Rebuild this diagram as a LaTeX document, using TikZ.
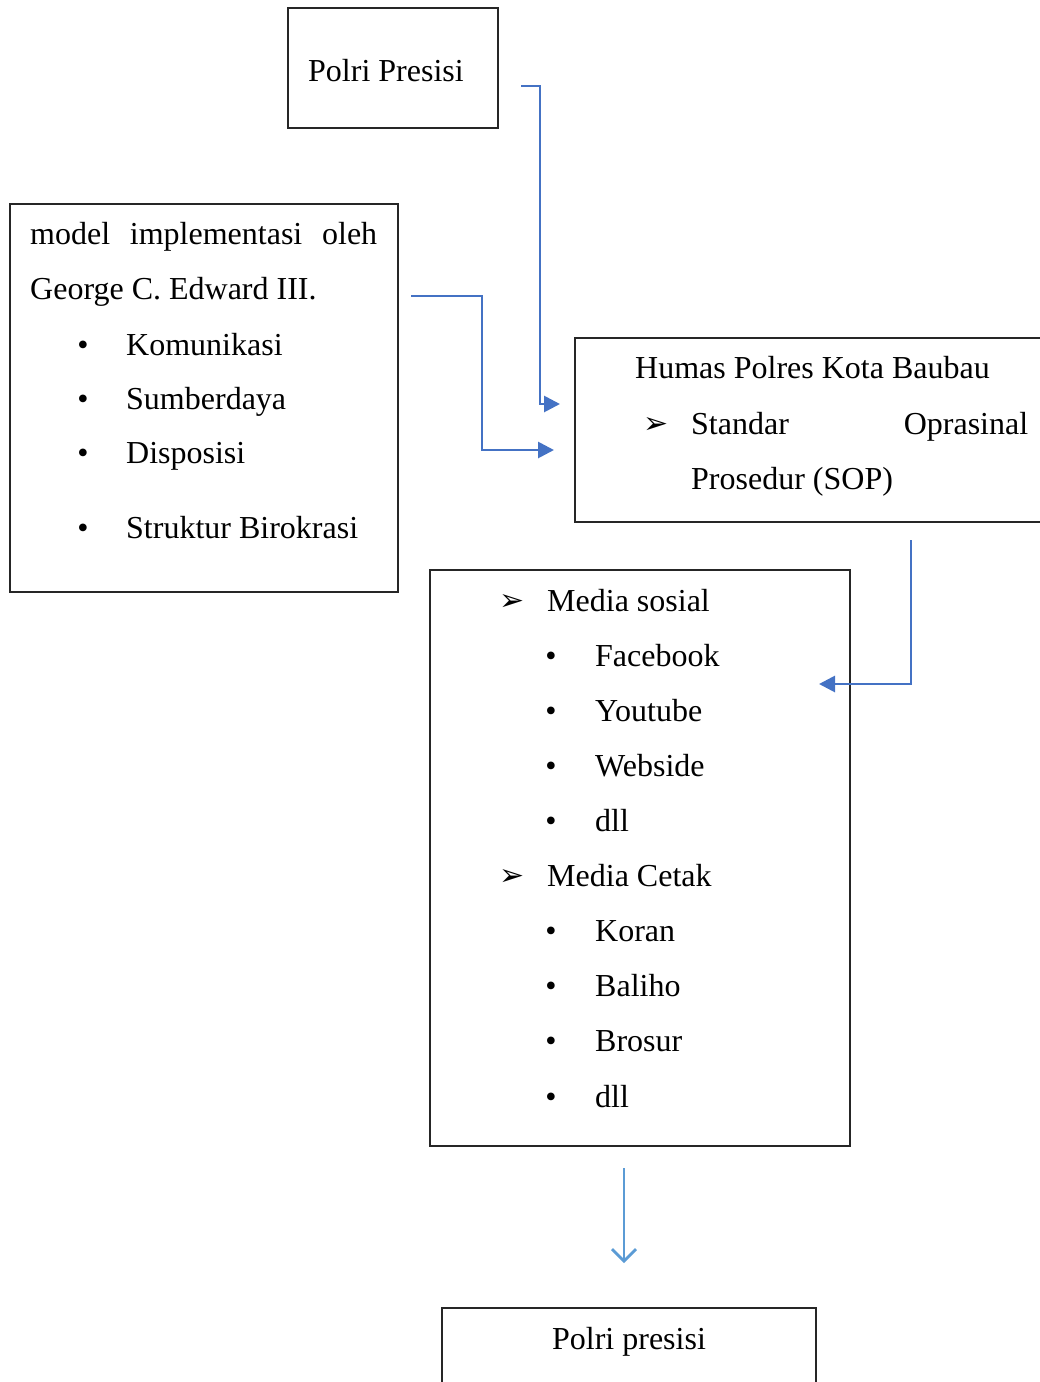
\documentclass[tikz,border=0pt]{standalone}
\usepackage{fontspec}
\setmainfont{Liberation Serif}
\newfontfamily\dejavu{DejaVu Sans}
\usepackage{xcolor}
\usetikzlibrary{arrows.meta}
\definecolor{linkblue}{HTML}{4472C4}
\definecolor{downblue}{HTML}{5B9BD5}

\begin{document}
\begin{tikzpicture}[x=1pt,y=-1pt,
    box/.style={draw=black!85, line width=1.2pt, inner sep=0pt},
    txt/.style={anchor=base west, inner sep=0pt, font=\fontsize{32}{38}\selectfont},
    dot/.style={anchor=base, inner sep=0pt, font=\fontsize{32}{38}\selectfont},
    arrbullet/.style={anchor=base west, inner sep=0pt, font=\dejavu\fontsize{30}{34}\selectfont},
    link/.style={draw=linkblue, line width=2.8pt, -{Triangle[length=16pt,width=16pt]}},
    down/.style={draw=downblue, line width=2.8pt, -{Straight Barb[length=12pt,width=24pt]}}]
        \clip (0,0) rectangle (1040,1382);

        % Define boxes
        \node[box, minimum width=210, minimum height=120] (polri) at (393,68) {};
        \node[box, minimum width=388, minimum height=388] (model) at (204,398) {};
        \node[box, minimum width=475, minimum height=184] (humas) at (812.5,430) {};
        \node[box, minimum width=420, minimum height=576] (media) at (640,858) {};
        \node[box, minimum width=374, minimum height=92] (hasil) at (629,1354) {};

        % Polri Presisi
        \node[txt] (polriT) at (308,81) {Polri Presisi};

        % model implementasi
        \node[txt] (modelA) at (30,244) {\makebox[347pt][s]{model implementasi oleh}};
        \node[txt] (modelB) at (30,299) {George C. Edward III.};
        \node[dot] (m1d) at (83,355) {•};
        \node[txt] (m1) at (126,355) {Komunikasi};
        \node[dot] (m2d) at (83,409) {•};
        \node[txt] (m2) at (126,409) {Sumberdaya};
        \node[dot] (m3d) at (83,463) {•};
        \node[txt] (m3) at (126,463) {Disposisi};
        \node[dot] (m4d) at (83,538) {•};
        \node[txt] (m4) at (126,538) {Struktur Birokrasi};

        % Humas Polres
        \node[txt] (humasA) at (635,378) {Humas Polres Kota Baubau};
        \node[arrbullet] (h1d) at (643,433) {➢};
        \node[txt] (humasB) at (691,434) {\makebox[337pt][s]{Standar Oprasinal}};
        \node[txt] (humasC) at (691,489) {Prosedur (SOP)};

        % Media
        \node[arrbullet] (s0d) at (499,610) {➢};
        \node[txt] (s0) at (547,611) {Media sosial};
        \node[dot] (s1d) at (551,666) {•};
        \node[txt] (s1) at (595,666) {Facebook};
        \node[dot] (s2d) at (551,721) {•};
        \node[txt] (s2) at (595,721) {Youtube};
        \node[dot] (s3d) at (551,776) {•};
        \node[txt] (s3) at (595,776) {Webside};
        \node[dot] (s4d) at (551,831) {•};
        \node[txt] (s4) at (595,831) {dll};
        \node[arrbullet] (c0d) at (499,885) {➢};
        \node[txt] (c0) at (547,886) {Media Cetak};
        \node[dot] (c1d) at (551,941) {•};
        \node[txt] (c1) at (595,941) {Koran};
        \node[dot] (c2d) at (551,996) {•};
        \node[txt] (c2) at (595,996) {Baliho};
        \node[dot] (c3d) at (551,1051) {•};
        \node[txt] (c3) at (595,1051) {Brosur};
        \node[dot] (c4d) at (551,1107) {•};
        \node[txt] (c4) at (595,1107) {dll};

        % Polri presisi
        \node[dot] (hasilT) at (629,1349) {Polri presisi};

        % Connect boxes
        \coordinate (fromPolri) at (521,86);
        \coordinate (toHumasA) at (560,404);
        \draw[link] (fromPolri) -- ++(19,0) |- (toHumasA);

        \coordinate (fromModel) at (411,296);
        \coordinate (toHumasB) at (554,450);
        \draw[link] (fromModel) -- ++(71,0) |- (toHumasB);

        \coordinate (fromHumas) at (911,540);
        \coordinate (toMedia) at (819,684);
        \draw[link] (fromHumas) |- (toMedia);

        \coordinate (fromMedia) at (624,1168);
        \coordinate (toHasil) at (624,1263);
        \draw[down] (fromMedia) -- (toHasil);
    \end{tikzpicture}
\end{document}
